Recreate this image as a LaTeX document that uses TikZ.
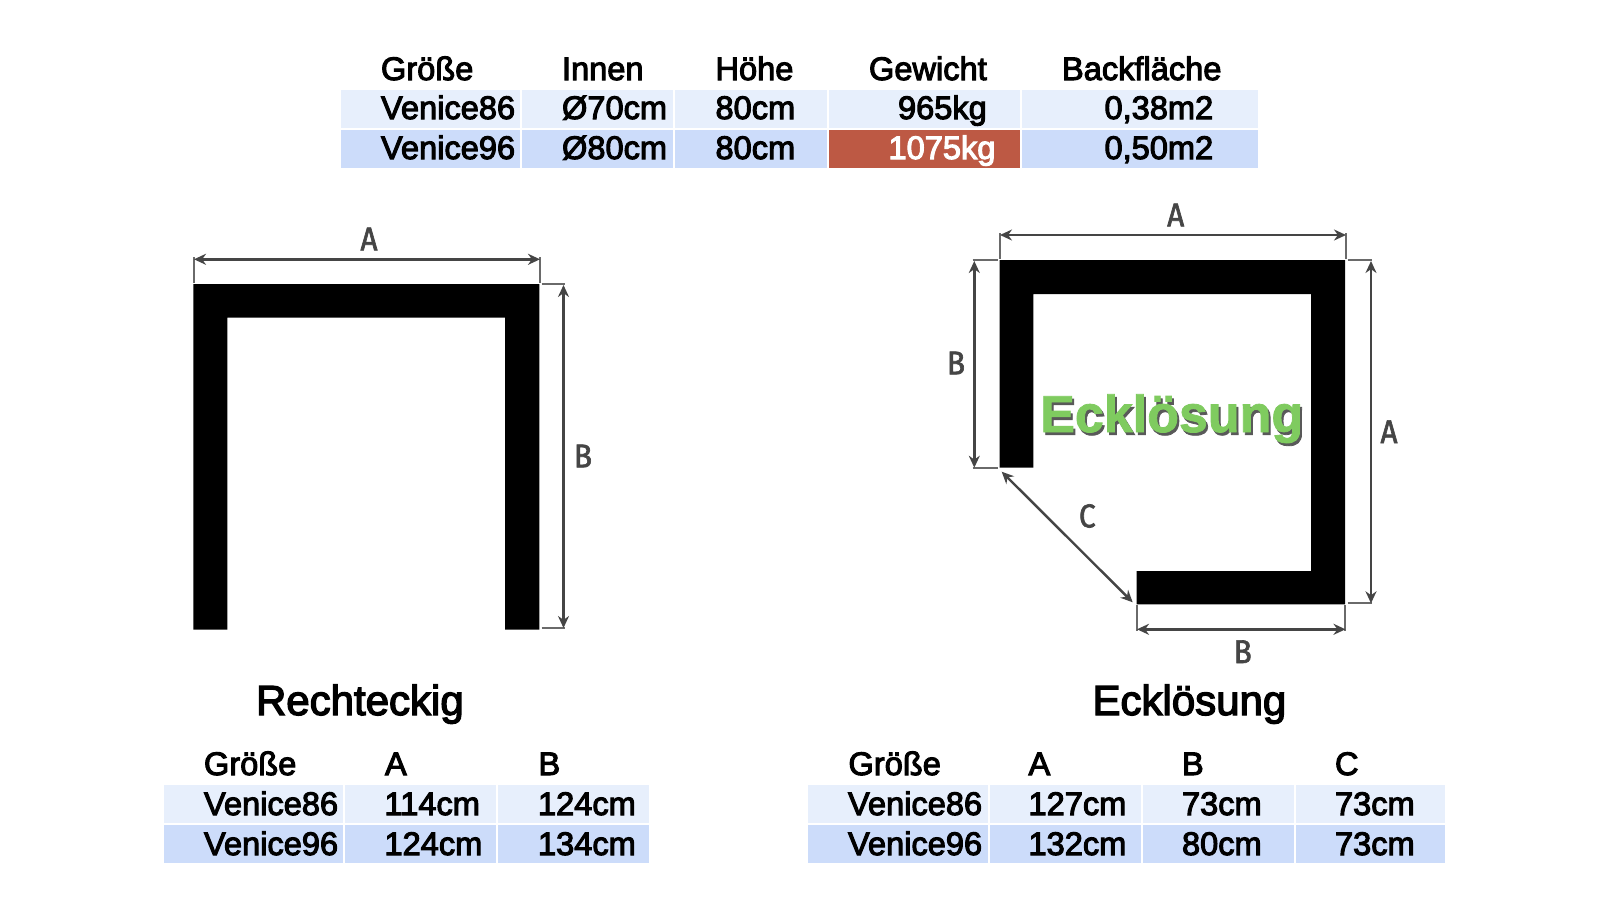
\documentclass[tikz,border=0pt]{standalone}
\usepackage{fontspec}
\usetikzlibrary{arrows.meta}
\setmainfont{Liberation Sans}[FakeBold=3.2]
\newfontfamily\boldsans{Liberation Sans Bold}[FakeBold=1.5]
\newfontfamily\dimfont{Fira Sans}[FakeStretch=0.9,FakeBold=2]
\definecolor{rowa}{HTML}{E7EFFC}
\definecolor{rowb}{HTML}{CCDCFA}
\definecolor{hot}{HTML}{BD5944}
\definecolor{dimc}{HTML}{454545}
\definecolor{gr}{HTML}{7FCB5F}
\tikzset{
  txt/.style={anchor=base west,inner sep=0pt,outer sep=0pt,font=\fontsize{32.6}{34}\selectfont,text=black},
  ttl/.style={txt,font=\fontsize{42}{44}\selectfont},
  dimlab/.style={anchor=center,inner sep=0pt,font=\dimfont\fontsize{33}{36}\selectfont,text=dimc},
  dimline/.style={draw=dimc,line width=2.4pt,{Stealth[length=12pt,width=11pt]}-{Stealth[length=12pt,width=11pt]}},
  extline/.style={draw=dimc!80,line width=1.8pt},
  wall/.style={fill=black,draw=none},
  greenlab/.style={anchor=center,inner sep=0pt,font=\boldsans\fontsize{52}{54}\selectfont}
}
\newcommand{\cellbox}[5]{\fill[#1] (#2,#3) rectangle (#4,#5);}
\begin{document}
\begin{tikzpicture}[x=1pt,y=-1pt]
\useasboundingbox (0,0) rectangle (1604,906);
\fill[white] (0,0) rectangle (1604,906);

% top table
\foreach \xa/\xb in {341/519.5,521.5/673,675/827,1022/1258}{
  \cellbox{rowa}{\xa}{90}{\xb}{128}
  \cellbox{rowb}{\xa}{130}{\xb}{168}
}
\cellbox{rowa}{829}{90}{1020}{128}
\cellbox{hot}{829}{130}{1020}{168}
\node[txt] (t0a) at (381,80) {Größe};
\node[txt] (t0b) at (562,80) {Innen};
\node[txt] (t0c) at (715.5,80) {Höhe};
\node[txt] (t0d) at (869,80) {Gewicht};
\node[txt] (t0e) at (1062,80) {Backfläche};
\node[txt] (t1a) at (381,119) {Venice86};
\node[txt] (t1b) at (562,119) {Ø70cm};
\node[txt] (t1c) at (715.5,119) {80cm};
\node[txt] (t1d) at (898,119) {965kg};
\node[txt] (t1e) at (1104.5,119) {0,38m2};
\node[txt] (t2a) at (381,159) {Venice96};
\node[txt] (t2b) at (562,159) {Ø80cm};
\node[txt] (t2c) at (715.5,159) {80cm};
\node[txt,text=white] (t2d) at (888.5,159) {1075kg};
\node[txt] (t2e) at (1104.5,159) {0,50m2};

% rectangular plan
\fill[wall] (193.3,284) -- (539.3,284) -- (539.3,629.5) -- (505,629.5) -- (505,317.5) -- (227.3,317.5) -- (227.3,629.5) -- (193.3,629.5) -- cycle;
\coordinate (ra1) at (194,259.3);
\coordinate (ra2) at (540,259.3);
\coordinate (rb1) at (563.5,285);
\coordinate (rb2) at (563.5,628);
\draw[extline] (194,257) -- (194,283);
\draw[extline] (539.8,257) -- (539.8,283);
\draw[extline] (541.5,284) -- (565,284);
\draw[extline] (541.5,628) -- (565,628);
\draw[dimline] (ra1) -- (ra2);
\draw[dimline] (rb1) -- (rb2);
\node[dimlab] (la) at (369,239) {A};
\node[dimlab] (lb) at (583,456) {B};

% corner plan
\fill[wall] (999.5,260) -- (1345,260) -- (1345,604.3) -- (1136.7,604.3) -- (1136.7,571) -- (1311,571) -- (1311,294) -- (1033.3,294) -- (1033.3,467.7) -- (999.5,467.7) -- cycle;
\coordinate (ca1) at (1000,235);
\coordinate (ca2) at (1346,235);
\coordinate (cb1) at (974.3,261);
\coordinate (cb2) at (974.3,467.7);
\coordinate (cr1) at (1371,261);
\coordinate (cr2) at (1371,603.3);
\coordinate (cd1) at (1137,629.3);
\coordinate (cd2) at (1345.5,629.3);
\coordinate (cc1) at (1001.7,471.7);
\coordinate (cc2) at (1132.7,602.3);
\draw[extline] (999.7,233) -- (999.7,259);
\draw[extline] (1345.7,233) -- (1345.7,259);
\draw[extline] (972.7,260) -- (998,260);
\draw[extline] (972.7,467.7) -- (998,467.7);
\draw[extline] (1347.7,260) -- (1372,260);
\draw[extline] (1347.7,603.3) -- (1372,603.3);
\draw[extline] (1137,605) -- (1137,630.5);
\draw[extline] (1345.3,605) -- (1345.3,630.5);
\draw[dimline] (ca1) -- (ca2);
\draw[dimline] (cb1) -- (cb2);
\draw[dimline] (cr1) -- (cr2);
\draw[dimline] (cd1) -- (cd2);
\draw[dimline] (cc1) -- (cc2);
\node[dimlab] (ma) at (1175.7,215) {A};
\node[dimlab] (mb) at (956,363) {B};
\node[dimlab] (mr) at (1389,431.7) {A};
\node[dimlab] (md) at (1242.7,651.7) {B};
\node[dimlab] (mc) at (1087.3,516) {C};
\node[greenlab,text=black!65] (gs) at (1173.7,421.5) {Ecklösung};
\node[greenlab,text=gr] (g) at (1171.7,418.7) {Ecklösung};

% titles
\node[ttl] (ti1) at (256,715) {Rechteckig};
\node[ttl] (ti2) at (1092.5,715) {Ecklösung};

% lower left table
\foreach \xa/\xb in {164/343,345/496,498/649}{
  \cellbox{rowa}{\xa}{785}{\xb}{823}
  \cellbox{rowb}{\xa}{825}{\xb}{862.7}
}
\node[txt] (l0a) at (204,775) {Größe};
\node[txt] (l0b) at (385,775) {A};
\node[txt] (l0c) at (538.5,775) {B};
\node[txt] (l1a) at (204,815) {Venice86};
\node[txt] (l1b) at (384.5,815) {114cm};
\node[txt] (l1c) at (538,815) {124cm};
\node[txt] (l2a) at (204,855) {Venice96};
\node[txt] (l2b) at (384.5,855) {124cm};
\node[txt] (l2c) at (538,855) {134cm};

% lower right table
\foreach \xa/\xb in {808/987.5,989.5/1140.5,1142.5/1294,1296/1445}{
  \cellbox{rowa}{\xa}{785}{\xb}{823}
  \cellbox{rowb}{\xa}{825}{\xb}{862.7}
}
\node[txt] (r0a) at (848.5,775) {Größe};
\node[txt] (r0b) at (1028.5,775) {A};
\node[txt] (r0c) at (1182,775) {B};
\node[txt] (r0d) at (1335,775) {C};
\node[txt] (r1a) at (848,815) {Venice86};
\node[txt] (r1b) at (1028.5,815) {127cm};
\node[txt] (r1c) at (1182,815) {73cm};
\node[txt] (r1d) at (1335,815) {73cm};
\node[txt] (r2a) at (848,855) {Venice96};
\node[txt] (r2b) at (1028.5,855) {132cm};
\node[txt] (r2c) at (1182,855) {80cm};
\node[txt] (r2d) at (1335,855) {73cm};
\end{tikzpicture}
\end{document}
